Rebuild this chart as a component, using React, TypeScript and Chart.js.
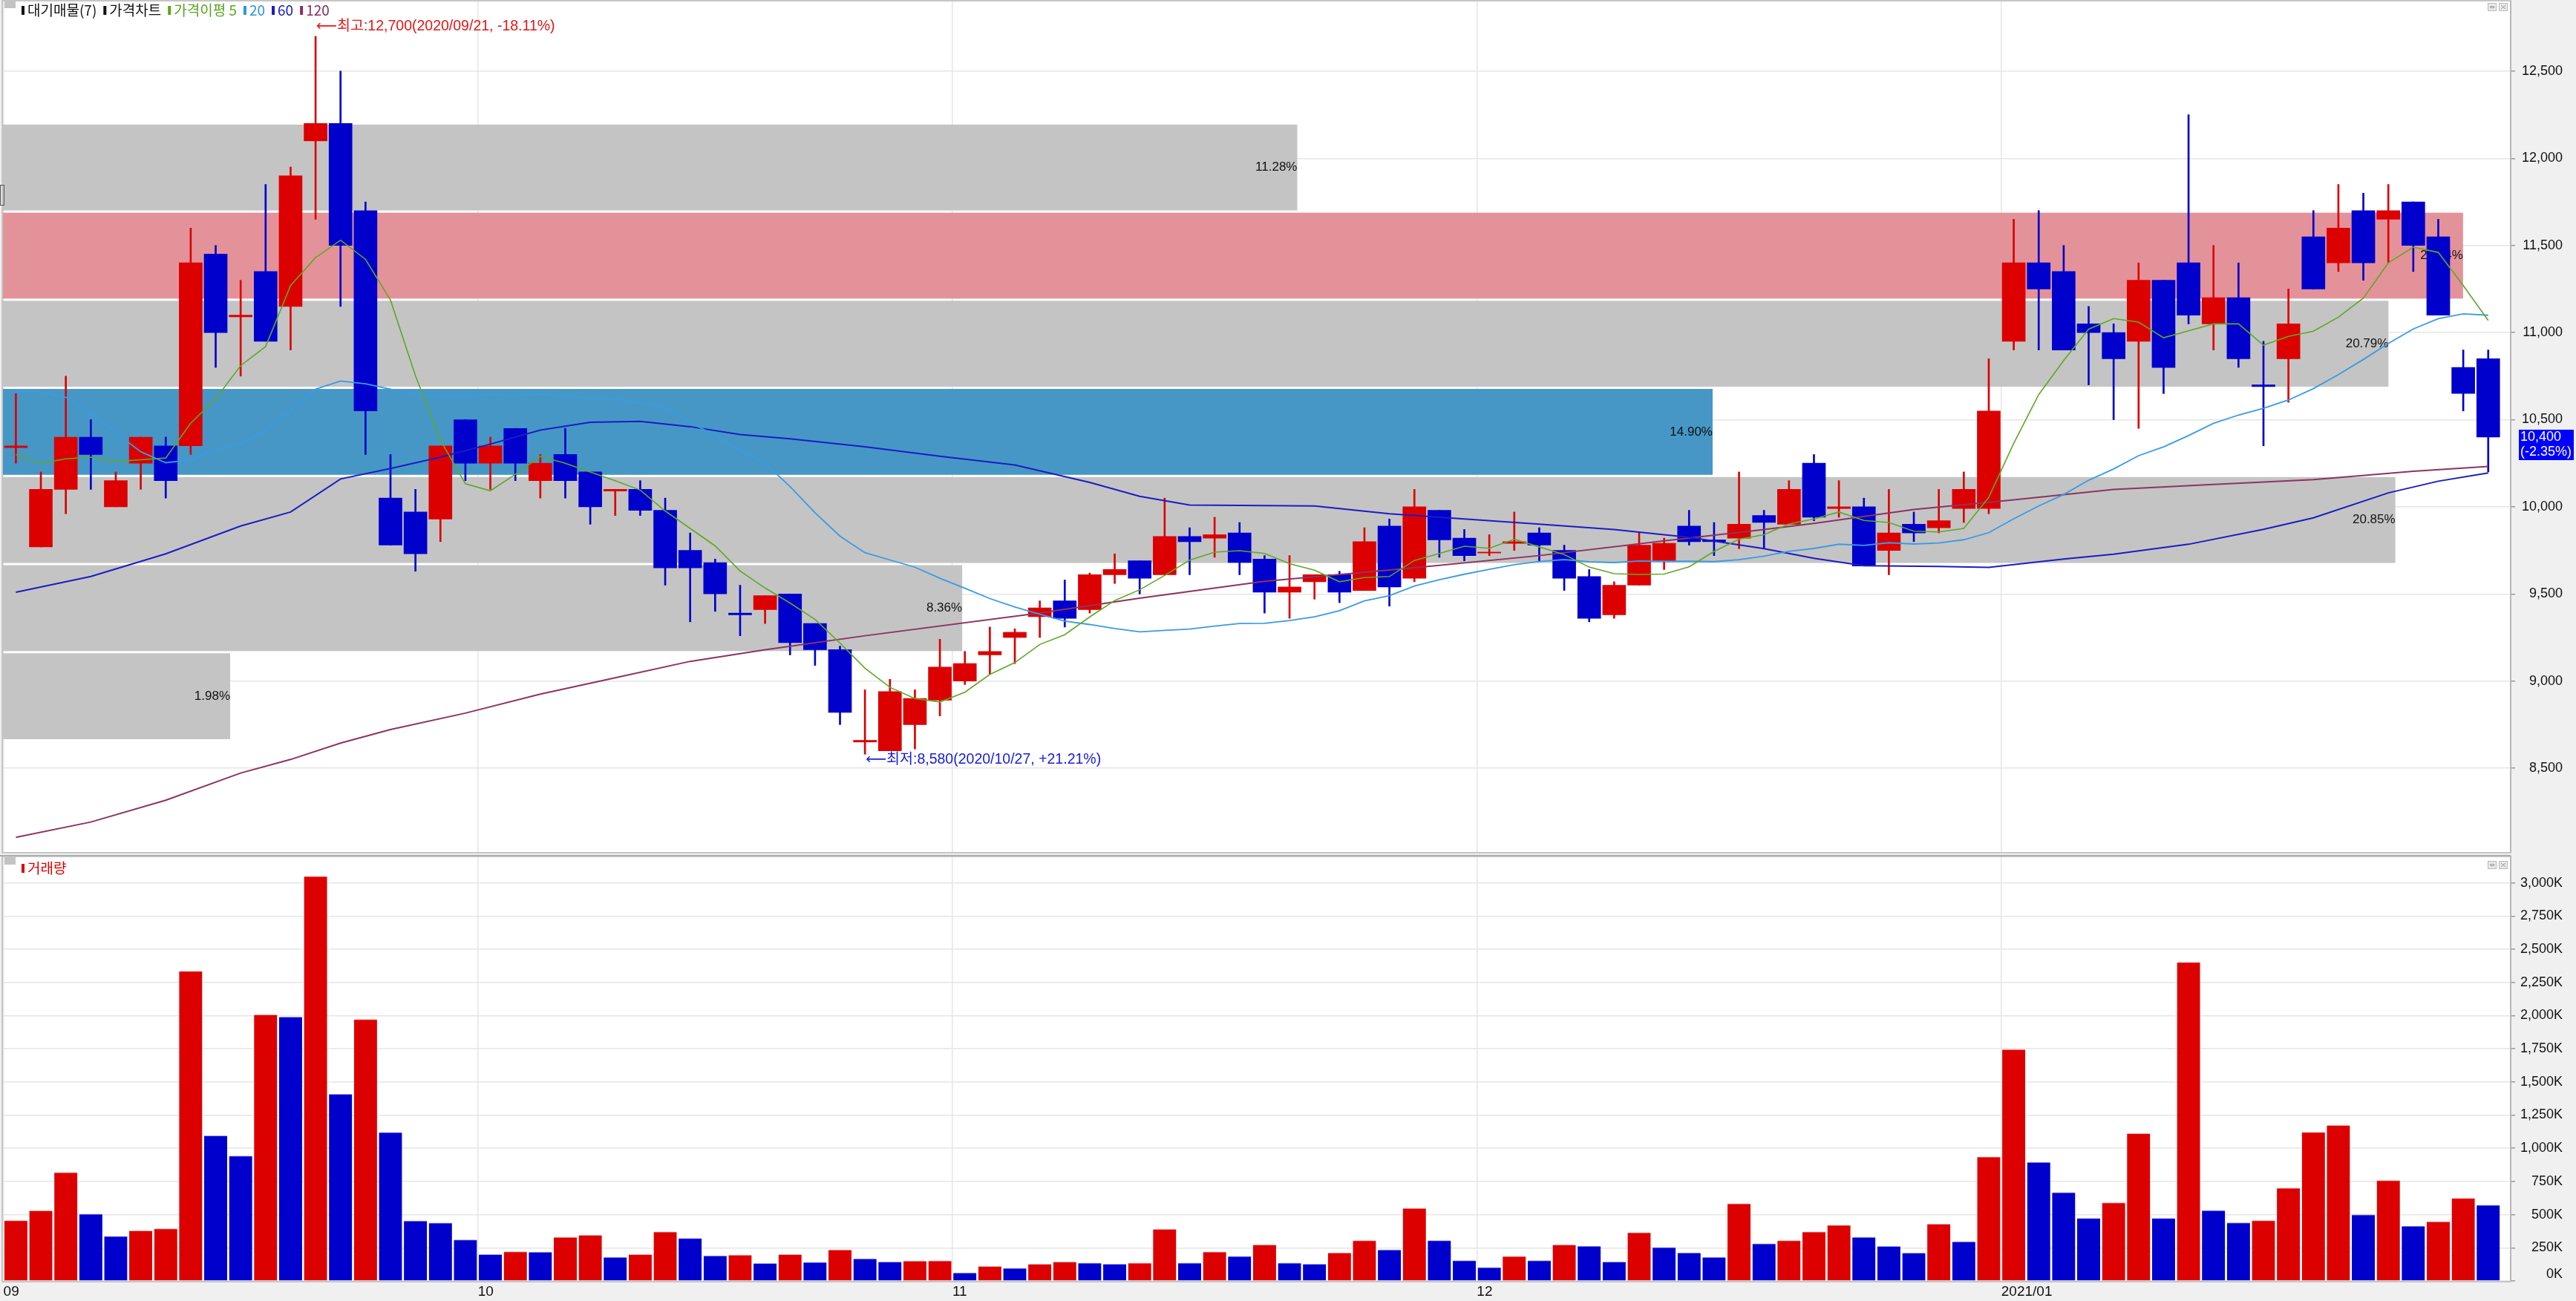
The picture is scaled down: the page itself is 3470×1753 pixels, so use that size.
import React, { useEffect, useRef } from "react";
import { Chart, registerables } from "chart.js";

Chart.register(...registerables);

// ---------------- data ----------------
const dates: string[] = [
  "2020/09/03","2020/09/04","2020/09/07","2020/09/08","2020/09/09","2020/09/10","2020/09/11","2020/09/14","2020/09/15","2020/09/16",
  "2020/09/17","2020/09/18","2020/09/21","2020/09/22","2020/09/23","2020/09/24","2020/09/25","2020/09/28","2020/09/29",
  "2020/10/05","2020/10/06","2020/10/07","2020/10/08","2020/10/12","2020/10/13","2020/10/14","2020/10/15","2020/10/16","2020/10/19",
  "2020/10/20","2020/10/21","2020/10/22","2020/10/23","2020/10/26","2020/10/27","2020/10/28","2020/10/29","2020/10/30",
  "2020/11/02","2020/11/03","2020/11/04","2020/11/05","2020/11/06","2020/11/09","2020/11/10","2020/11/11","2020/11/12","2020/11/13",
  "2020/11/16","2020/11/17","2020/11/18","2020/11/19","2020/11/20","2020/11/23","2020/11/24","2020/11/25","2020/11/26","2020/11/27","2020/11/30",
  "2020/12/01","2020/12/02","2020/12/03","2020/12/04","2020/12/07","2020/12/08","2020/12/09","2020/12/10","2020/12/11","2020/12/14",
  "2020/12/15","2020/12/16","2020/12/17","2020/12/18","2020/12/21","2020/12/22","2020/12/23","2020/12/24","2020/12/28","2020/12/29","2020/12/30",
  "2021/01/04","2021/01/05","2021/01/06","2021/01/07","2021/01/08","2021/01/11","2021/01/12","2021/01/13","2021/01/14","2021/01/15",
  "2021/01/18","2021/01/19","2021/01/20","2021/01/21","2021/01/22","2021/01/25","2021/01/26","2021/01/27","2021/01/28","2021/01/29",
];

const opens: number[] = [
  10340, 9770, 10100, 10400, 10000, 10250, 10350, 10350, 11450, 11090,
  11350, 11150, 12100, 12200, 11700, 10050, 9970, 9930, 10500, 10250,
  10450, 10150, 10300, 10200, 10090, 10100, 9980, 9750, 9680, 9390,
  9410, 9500, 9330, 9180, 8650, 8600, 8750, 8890, 9000, 9150,
  9250, 9370, 9460, 9410, 9610, 9690, 9610, 9830, 9820, 9850,
  9700, 9510, 9570, 9610, 9520, 9890, 9590, 9980, 9820, 9735,
  9790, 9850, 9750, 9600, 9380, 9550, 9690, 9890, 9810, 9820,
  9950, 9900, 10250, 9990, 10000, 9750, 9900, 9880, 9990, 9990,
  10950, 11400, 11350, 11050, 11000, 10950, 11300, 11400, 11050, 11200,
  10700, 10850, 11550, 11400, 11700, 11650, 11750, 11550, 10800, 10850,
];
const highs: number[] = [
  10650, 10200, 10750, 10500, 10200, 10400, 10400, 11600, 11500, 11300,
  11850, 11950, 12700, 12500, 11750, 10300, 10100, 10350, 10500, 10400,
  10450, 10300, 10450, 10200, 10100, 10150, 10050, 9850, 9700, 9550,
  9490, 9500, 9330, 9200, 8950, 9010, 8950, 9240, 9170, 9310,
  9300, 9460, 9580, 9620, 9730, 9690, 10050, 9880, 9940, 9910,
  9720, 9720, 9610, 9630, 9880, 9930, 10100, 9980, 9870, 9840,
  9970, 9880, 9780, 9640, 9570, 9850, 9820, 9980, 9910, 10200,
  9980, 10150, 10300, 10150, 10050, 10100, 9970, 10100, 10200, 10850,
  11650, 11700, 11500, 11150, 11050, 11400, 11300, 12250, 11500, 11400,
  10950, 11250, 11700, 11850, 11800, 11850, 11750, 11650, 10900, 10900,
];
const lows: number[] = [
  10250, 9770, 9960, 10100, 10000, 10100, 10050, 10300, 10800, 10750,
  10950, 10900, 11650, 11150, 10300, 9780, 9630, 9800, 10150, 10100,
  10150, 10050, 10050, 9900, 9950, 9950, 9550, 9340, 9400, 9260,
  9330, 9150, 9090, 8750, 8580, 8600, 8610, 8800, 8980, 9040,
  9100, 9250, 9310, 9390, 9560, 9500, 9610, 9610, 9710, 9610,
  9390, 9360, 9470, 9450, 9520, 9430, 9570, 9710, 9690, 9720,
  9750, 9690, 9520, 9340, 9360, 9550, 9640, 9780, 9720, 9760,
  9760, 9900, 9920, 9940, 9660, 9610, 9800, 9850, 9910, 9960,
  10900, 10900, 10900, 10700, 10500, 10450, 10650, 11050, 10900, 10800,
  10350, 10600, 11250, 11350, 11300, 11400, 11350, 11100, 10550, 10200,
];
const closes: number[] = [
  10350, 10100, 10400, 10300, 10150, 10400, 10150, 11400, 11000, 11100,
  10950, 11900, 12200, 11500, 10550, 9780, 9730, 10350, 10250, 10350,
  10250, 10250, 10150, 10000, 10100, 9980, 9650, 9650, 9500, 9380,
  9490, 9220, 9180, 8820, 8660, 8940, 8900, 9080, 9100, 9170,
  9280, 9420, 9360, 9610, 9640, 9590, 9830, 9800, 9840, 9680,
  9510, 9540, 9610, 9510, 9800, 9540, 10000, 9810, 9720, 9740,
  9800, 9780, 9590, 9360, 9550, 9780, 9790, 9800, 9800, 9900,
  9910, 10100, 9940, 10000, 9660, 9850, 9850, 9920, 10100, 10550,
  11400, 11250, 10900, 11000, 10850, 11300, 10800, 11100, 11200, 10850,
  10690, 11050, 11250, 11600, 11400, 11700, 11500, 11100, 10650, 10400,
];
// volume in thousands of shares
const volumesK: number[] = [
  455, 529, 817, 504, 337, 378, 394, 2335, 1095, 942,
  2006, 1989, 3049, 1407, 1971, 1119, 453, 437, 310, 200,
  220, 218, 329, 345, 178, 200, 370, 321, 190, 195,
  133, 200, 141, 235, 167, 143, 150, 152, 61, 110,
  96, 127, 143, 135, 127, 135, 390, 135, 219, 186,
  272, 135, 127, 212, 304, 235, 547, 304, 153, 102,
  186, 153, 272, 263, 143, 364, 253, 212, 178, 582,
  280, 304, 370, 421, 329, 261, 210, 429, 296, 935,
  1744, 895, 666, 472, 590, 1111, 472, 2402, 531, 439,
  455, 700, 1121, 1172, 498, 758, 413, 447, 623, 572,
];
const ma5Lead: number[] = [10300, 10250, 10275, 10285];
const ma20Lead: number[] = [10666, 10659, 10628, 10534, 10425, 10316, 10253, 10269, 10331, 10362,
  10441, 10550, 10675, 10722, 10706, 10675, 10644, 10638, 10638];
const ma60Index: number[] = [0, 3, 6, 9, 11, 13, 15, 17, 19, 21, 23, 25, 27, 29, 31, 34, 37, 40, 43, 45,
  47, 52, 55, 58, 61, 64, 67, 70, 72, 74, 77, 79, 82, 84, 87, 90, 92, 95, 97, 99];
const ma60Values: number[] = [9510, 9600, 9730, 9890, 9970, 10160, 10220, 10285, 10360, 10440, 10485, 10490, 10460, 10415, 10390, 10345, 10290, 10240, 10140, 10060,
  10010, 10005, 9960, 9930, 9900, 9870, 9825, 9760, 9705, 9662, 9658, 9652, 9700, 9728, 9785, 9871, 9937, 10080, 10147, 10194];
const ma120Index: number[] = [0, 3, 6, 9, 11, 13, 15, 18, 21, 24, 27, 30, 34, 41, 45, 50, 56, 61, 66, 70, 72, 76, 80, 84, 88, 92, 96, 99];
const ma120Values: number[] = [8103, 8191, 8316, 8472, 8550, 8644, 8722, 8816, 8925, 9019, 9113, 9180, 9260, 9390, 9476, 9573, 9650, 9720, 9805, 9870, 9905, 9985, 10040, 10100, 10128, 10156, 10204, 10232];

const priceTicks: number[] = [8500, 9000, 9500, 10000, 10500, 11000, 11500, 12000, 12500];
const volumeTicksK: number[] = [0, 250, 500, 750, 1000, 1250, 1500, 1750, 2000, 2250, 2500, 2750, 3000];

// 대기매물 (volume profile, 7 bands from bottom to top)
const profilePercents: number[] = [1.98, 8.36, 20.85, 14.9, 20.79, 21.44, 11.28];
const profileLow = 8660;
const profileHigh = 12200;

const legendLabels: string[] = ["대기매물(7)", "가격차트", "가격이평 5", "20", "60", "120"];
const volumeLegendLabel = "거래량";

// ---------------- styling / layout ----------------
const WIDTH = 3470;
const HEIGHT = 1753;
const PRICE_CANVAS_H = 1152;
const VOL_CANVAS_H = HEIGHT - PRICE_CANVAS_H;
const AXIS_W = 88;
const LABEL_RIGHT = 3452;
const X_MIN = -0.5173;
const X_MAX = 99.899;
const PRICE_MIN = 8019;
const PRICE_MAX = 12900;
const VOL_MAX = 3199;

const UP = "#dc0000";
const DOWN = "#0000cc";
const GRID = "#e6e6e6";
const FONT = '"Liberation Sans", "Noto Sans CJK KR", "DejaVu Sans", sans-serif';
const FONT_KR = '"Noto Sans CJK KR", "Liberation Sans", sans-serif';
const LEGEND_COLORS = ["#111111", "#111111", "#5aa41e", "#2f96e0", "#1a1ac8", "#8b2f5e"];

Chart.defaults.font.family = FONT;

const fmt = (v: number) => Math.round(v).toLocaleString("en-US");
const fmtPct = (r: number) => (r >= 0 ? "+" : "-") + Math.abs(r * 100).toFixed(2) + "%";

const movingAverage = (n: number, lead: number[]) =>
  closes.map((_, i) =>
    i < n - 1 ? lead[i] : closes.slice(i - n + 1, i + 1).reduce((s, v) => s + v, 0) / n
  );

const monthTicks: { pos: number; label: string; year: string }[] = [];
dates.forEach((d, i) => {
  const [y, m] = d.split("/");
  if (i === 0 || dates[i - 1].slice(0, 7) !== d.slice(0, 7)) {
    const prevYear = monthTicks.length ? monthTicks[monthTicks.length - 1].year : y;
    monthTicks.push({ pos: i - 0.5, label: monthTicks.length && y !== prevYear ? `${y}/${m}` : m, year: y });
  }
});

function drawIcons(ctx: CanvasRenderingContext2D, y0: number) {
  ctx.save();
  ctx.lineWidth = 1;
  [3351, 3366].forEach((x0, k) => {
    ctx.fillStyle = "#e9e9e9";
    ctx.fillRect(x0, y0, 12, 11);
    ctx.strokeStyle = "#b9b9b9";
    ctx.strokeRect(x0 + 0.5, y0 + 0.5, 11, 10);
    ctx.strokeStyle = "#9a9a9a";
    ctx.beginPath();
    if (k === 0) {
      ctx.rect(x0 + 3.5, y0 + 4.5, 5, 2);
    } else {
      ctx.moveTo(x0 + 3, y0 + 3);
      ctx.lineTo(x0 + 9, y0 + 8);
      ctx.moveTo(x0 + 9, y0 + 3);
      ctx.lineTo(x0 + 3, y0 + 8);
    }
    ctx.stroke();
  });
  ctx.restore();
}

// right-aligned value labels in the gray axis column
function drawAxisLabels(chart: any, values: number[], format: (v: number) => string) {
  const { ctx, chartArea: a, scales } = chart;
  const y = scales.y;
  ctx.save();
  ctx.font = `18px ${FONT}`;
  ctx.fillStyle = "#111111";
  ctx.textAlign = "right";
  ctx.textBaseline = "middle";
  values.forEach((v) => {
    const py = Math.min(a.bottom - 9, Math.max(a.top + 9, y.getPixelForValue(v)));
    ctx.fillText(format(v), LABEL_RIGHT, py);
  });
  ctx.restore();
}

const whiteAreaPlugin = {
  id: "whiteArea",
  beforeDraw(chart: any) {
    const { ctx, chartArea: a } = chart;
    ctx.save();
    ctx.fillStyle = "#ffffff";
    ctx.fillRect(a.left, a.top, a.right - a.left, a.bottom - a.top);
    ctx.restore();
  },
};

const profilePlugin = {
  id: "profile",
  beforeDatasetsDraw(chart: any) {
    const { ctx, chartArea: a, scales } = chart;
    const y = scales.y;
    const n = profilePercents.length;
    const step = (profileHigh - profileLow) / n;
    const maxPct = Math.max(...profilePercents);
    const maxIdx = profilePercents.indexOf(maxPct);
    const last = closes[closes.length - 1];
    const curIdx = Math.max(0, Math.min(n - 1, Math.floor((last - profileLow) / step)));
    const fullW = (a.right - a.left) * 0.981;
    ctx.save();
    profilePercents.forEach((p, k) => {
      const yTop = y.getPixelForValue(profileLow + (k + 1) * step);
      const yBot = y.getPixelForValue(profileLow + k * step);
      const w = (fullW * p) / maxPct;
      ctx.fillStyle = k === curIdx ? "#4697c6" : k === maxIdx ? "#e4929a" : "#c4c4c4";
      ctx.fillRect(a.left, yTop + 1.5, w, yBot - yTop - 3);
      ctx.fillStyle = "#111111";
      ctx.font = `17px ${FONT}`;
      ctx.textAlign = "right";
      ctx.textBaseline = "middle";
      ctx.fillText(p.toFixed(2) + "%", a.left + w, (yTop + yBot) / 2);
    });
    ctx.restore();
  },
};

const priceOverlayPlugin = {
  id: "priceOverlay",
  afterDraw(chart: any) {
    const { ctx, chartArea: a, scales } = chart;
    const x = scales.x;
    const y = scales.y;
    drawAxisLabels(chart, priceTicks, fmt);
    ctx.save();
    // panel border
    ctx.strokeStyle = "#b8b8b8";
    ctx.lineWidth = 1.5;
    ctx.strokeRect(a.left - 1, a.top - 1, a.right - a.left + 1, a.bottom - a.top + 2);
    // small marker at left edge
    ctx.strokeStyle = "#555555";
    ctx.lineWidth = 1;
    ctx.strokeRect(0.5, 249.5, 5, 27);

    // legend
    ctx.fillStyle = "#c3c3c3";
    ctx.fillRect(6, 1, 15, 10);
    ctx.font = `19px ${FONT_KR}`;
    ctx.textBaseline = "middle";
    ctx.textAlign = "left";
    let lx = 29;
    legendLabels.forEach((t, k) => {
      ctx.fillStyle = LEGEND_COLORS[k];
      ctx.fillRect(lx, 8, 4, 12);
      lx += 8;
      ctx.fillText(t, lx, 14);
      lx += ctx.measureText(t).width + 9;
    });

    const last = closes[closes.length - 1];
    const prev = closes[closes.length - 2];
    const hi = Math.max(...highs);
    const hiIdx = highs.indexOf(hi);
    const lo = Math.min(...lows);
    const loIdx = lows.indexOf(lo);

    ctx.font = `19.5px ${FONT}`;
    ctx.fillStyle = "#e81414";
    ctx.fillText(
      `⟵최고:${fmt(hi)}(${dates[hiIdx]}, ${fmtPct((last - hi) / hi)})`,
      x.getPixelForValue(hiIdx) + 1,
      y.getPixelForValue(hi) - 13
    );
    ctx.fillStyle = "#1a1ae0";
    ctx.fillText(
      `⟵최저:${fmt(lo)}(${dates[loIdx]}, ${fmtPct((last - lo) / lo)})`,
      x.getPixelForValue(loIdx) + 1,
      y.getPixelForValue(lo) + 7
    );

    // current price box
    const py = y.getPixelForValue(last);
    const bx = a.right + 11;
    const by = py - 10;
    ctx.fillStyle = "#0000ff";
    ctx.fillRect(bx, by, 74, 41);
    ctx.fillStyle = "#ffffff";
    ctx.font = `18px ${FONT}`;
    ctx.fillText(fmt(last), bx + 2, by + 10);
    ctx.fillText(`(${fmtPct((last - prev) / prev)})`, bx + 2, by + 30);

    drawIcons(ctx, 4);
    ctx.restore();
  },
};

const volumeOverlayPlugin = {
  id: "volumeOverlay",
  afterDraw(chart: any) {
    const { ctx, chartArea: a } = chart;
    drawAxisLabels(chart, volumeTicksK, (v) => fmt(v) + "K");
    ctx.save();
    ctx.strokeStyle = "#a9a9a9";
    ctx.lineWidth = 2;
    ctx.beginPath();
    ctx.moveTo(0, 1);
    ctx.lineTo(a.right, 1);
    ctx.stroke();
    ctx.strokeStyle = "#b8b8b8";
    ctx.lineWidth = 1.5;
    ctx.strokeRect(a.left - 1, a.top, a.right - a.left + 1, a.bottom - a.top + 1);
    ctx.fillStyle = "#c3c3c3";
    ctx.fillRect(6, 3, 15, 10);
    ctx.fillStyle = UP;
    ctx.fillRect(29, 12, 4, 12);
    ctx.font = `19px ${FONT_KR}`;
    ctx.textBaseline = "middle";
    ctx.textAlign = "left";
    ctx.fillText(volumeLegendLabel, 37, 18);
    drawIcons(ctx, 8);
    ctx.restore();
  },
};

const yAxisBase = (min: number, max: number, ticks: number[]) => ({
  type: "linear",
  position: "right",
  min,
  max,
  afterBuildTicks: (s: any) => {
    s.ticks = ticks.map((v) => ({ value: v }));
  },
  afterFit: (s: any) => {
    s.width = AXIS_W;
    s.paddingTop = 0;
    s.paddingBottom = 0;
  },
  ticks: { display: false },
  grid: { color: GRID, lineWidth: 1.5, tickLength: 6, tickColor: "#9a9a9a", tickWidth: 1.5 },
  border: { display: true, color: "#b4b4b4", width: 2 },
});

function priceConfig(): any {
  const colors = closes.map((c, i) => (c >= opens[i] ? UP : DOWN));
  const ma5 = movingAverage(5, ma5Lead);
  const ma20 = movingAverage(20, ma20Lead);
  const line = (data: any[], color: string, width: number) => ({
    type: "line",
    data,
    borderColor: color,
    borderWidth: width,
    pointRadius: 0,
    fill: false,
    tension: 0,
    order: 0,
  });
  return {
    type: "bar",
    data: {
      datasets: [
        line(ma5.map((v, i) => ({ x: i, y: v })), "#5fa825", 1.6),
        line(ma20.map((v, i) => ({ x: i, y: v })), "#3a9be3", 1.8),
        line(ma60Index.map((xi, k) => ({ x: xi, y: ma60Values[k] })), "#1c1cc4", 2),
        line(ma120Index.map((xi, k) => ({ x: xi, y: ma120Values[k] })), "#8c3460", 2),
        {
          type: "bar",
          data: lows.map((l, i) => ({ x: i, y: [l, highs[i]] })),
          backgroundColor: colors,
          barThickness: 2,
          maxBarThickness: 2,
          grouped: false,
          order: 3,
        },
        {
          type: "bar",
          data: opens.map((o, i) => ({ x: i, y: [o, closes[i]] })),
          backgroundColor: colors,
          barThickness: 31,
          maxBarThickness: 31,
          grouped: false,
          order: 2,
        },
      ],
    },
    options: {
      responsive: false,
      animation: false,
      devicePixelRatio: 1,
      events: [],
      layout: { padding: { left: 4, top: 2, right: 0, bottom: 4 } },
      plugins: { legend: { display: false }, tooltip: { enabled: false } },
      scales: {
        x: {
          type: "linear",
          min: X_MIN,
          max: X_MAX,
          offset: false,
          afterBuildTicks: (s: any) => {
            s.ticks = monthTicks.map((t) => ({ value: t.pos }));
          },
          afterFit: (s: any) => {
            s.height = 0;
            s.paddingLeft = 0;
            s.paddingRight = 0;
          },
          ticks: { display: false },
          grid: { color: GRID, lineWidth: 1.5, drawTicks: false, offset: false },
          border: { display: false },
        },
        y: yAxisBase(PRICE_MIN, PRICE_MAX, priceTicks),
      },
    },
    plugins: [whiteAreaPlugin, profilePlugin, priceOverlayPlugin],
  };
}

function volumeConfig(): any {
  const up = volumesK.map((v, i) => i === 0 || v >= volumesK[i - 1]);
  return {
    type: "bar",
    data: {
      datasets: [
        {
          data: volumesK.map((v, i) => ({ x: i, y: v })),
          backgroundColor: up.map((u) => (u ? UP : DOWN)),
          borderColor: up.map((u) => (u ? "#f2a3a3" : "#9a9af0")),
          borderWidth: { top: 1, left: 0, right: 0, bottom: 0 },
          barThickness: 31,
          maxBarThickness: 31,
          grouped: false,
        },
      ],
    },
    options: {
      responsive: false,
      animation: false,
      devicePixelRatio: 1,
      events: [],
      layout: { padding: { left: 4, top: 2, right: 0, bottom: 0 } },
      plugins: { legend: { display: false }, tooltip: { enabled: false } },
      scales: {
        x: {
          type: "linear",
          min: X_MIN,
          max: X_MAX,
          offset: false,
          afterBuildTicks: (s: any) => {
            s.ticks = monthTicks.map((t) => ({ value: t.pos }));
          },
          afterFit: (s: any) => {
            s.height = 27;
            s.paddingLeft = 0;
            s.paddingRight = 0;
          },
          ticks: {
            callback: (_v: number, i: number) => (monthTicks[i] ? monthTicks[i].label : ""),
            align: "start",
            font: { family: FONT, size: 19 },
            color: "#111111",
            padding: 3,
            maxRotation: 0,
            autoSkip: false,
          },
          grid: { color: GRID, lineWidth: 1.5, drawTicks: false, offset: false },
          border: { display: false },
        },
        y: yAxisBase(0, VOL_MAX, volumeTicksK),
      },
    },
    plugins: [whiteAreaPlugin, volumeOverlayPlugin],
  };
}

export default function App() {
  const priceRef = useRef<HTMLCanvasElement>(null);
  const volRef = useRef<HTMLCanvasElement>(null);

  useEffect(() => {
    document.body.style.margin = "0";
    const pc = new Chart(priceRef.current as HTMLCanvasElement, priceConfig());
    const vc = new Chart(volRef.current as HTMLCanvasElement, volumeConfig());
    return () => {
      pc.destroy();
      vc.destroy();
    };
  }, []);

  return (
    <div
      style={{
        position: "fixed",
        left: 0,
        top: 0,
        width: WIDTH,
        height: HEIGHT,
        background: "#f0f0f0",
        overflow: "hidden",
      }}
    >
      <canvas
        ref={priceRef}
        width={WIDTH}
        height={PRICE_CANVAS_H}
        style={{ position: "absolute", left: 0, top: 0, width: WIDTH, height: PRICE_CANVAS_H }}
      />
      <canvas
        ref={volRef}
        width={WIDTH}
        height={VOL_CANVAS_H}
        style={{ position: "absolute", left: 0, top: PRICE_CANVAS_H, width: WIDTH, height: VOL_CANVAS_H }}
      />
    </div>
  );
}
